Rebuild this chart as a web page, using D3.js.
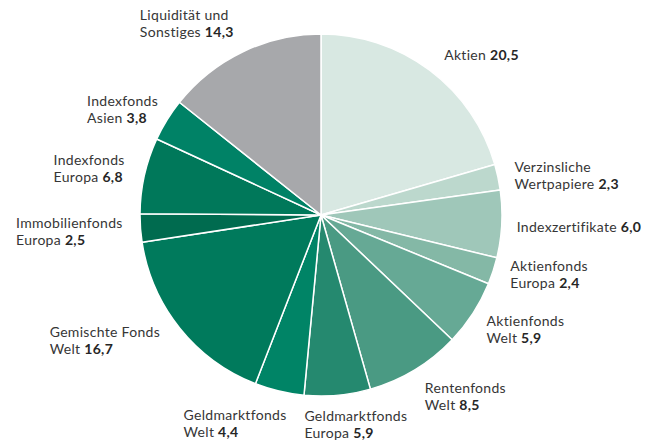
<!DOCTYPE html>
<html><head><meta charset="utf-8">
<script src="https://cdn.jsdelivr.net/npm/d3@7"></script>
<style>
html,body{margin:0;padding:0;background:#fff;}
svg text{font-family:Lato,"Open Sans",sans-serif;font-size:14px;letter-spacing:0.3px;fill:#363636;}
svg text .v{font-weight:700;fill:#262626;}
</style></head>
<body><svg id="c" width="660" height="443"></svg>
<script>
const labelLines = [
  ["Aktien"], ["Verzinsliche","Wertpapiere"], ["Indexzertifikate"], ["Aktienfonds","Europa"],
  ["Aktienfonds","Welt"], ["Rentenfonds","Welt"], ["Geldmarktfonds","Europa"], ["Geldmarktfonds","Welt"],
  ["Gemischte Fonds","Welt"], ["Immobilienfonds","Europa"], ["Indexfonds","Europa"], ["Indexfonds","Asien"],
  ["Liquidität und","Sonstiges"]
];
const values = [20.5, 2.3, 6.0, 2.4, 5.9, 8.5, 5.9, 4.4, 16.7, 2.5, 6.8, 3.8, 14.3];
const colors = ["#d8e8e2","#bcd8cd","#9fc7b9","#84b8a6","#66a995","#4a9a83","#25896f",
                "#008466","#007a5c","#006b4f","#00785a","#008266","#a7a8ab"];
// hand-tuned label nudges (px) relative to the automatic placement
const labelNudge = [[18,7],[-1,7],[-4,3],[1,-5],[4,-1],[20,-1],[12,-3],[-28,1],[-17,-7],[1,2],[-2,2],[2,9],[-27,4]];

const svg = d3.select("#c");
const cx = 321, cy = 215, r = 181, labelR = 200, lineH = 17;
const g = svg.append("g").attr("transform", `translate(${cx},${cy})`);
const data = values.map((v,i)=>({v, i}));
const pie = d3.pie().value(d=>d.v).sort(null);
const arcs = pie(data);
const arc = d3.arc().innerRadius(0).outerRadius(r);
g.selectAll("path").data(arcs).join("path")
  .attr("d", arc).attr("fill", d=>colors[d.data.i])
  .attr("stroke", "#fff").attr("stroke-width", 1.5).attr("stroke-linejoin","round");

const fmt = v => d3.format(".1f")(v).replace(".", ",");
arcs.forEach(a => {
  const i = a.data.i;
  const th = (a.startAngle + a.endAngle) / 2;
  const s = Math.sin(th), c = Math.cos(th);
  const px = labelR * s, py = -labelR * c;
  const lines = labelLines[i];
  const lg = g.append("g");
  lines.forEach((ln, k) => {
    const t = lg.append("text").attr("x", 0).attr("y", k * lineH);
    t.append("tspan").text(ln);
    if (k === lines.length - 1) {
      t.append("tspan").text(" ");
      t.append("tspan").attr("class","v").text(fmt(values[i]));
    }
  });
  const bb = lg.node().getBBox();
  const w = bb.width, h = (lines.length - 1) * lineH + 13;
  const xl = px - w * (1 - s) / 2;
  const yc = py - (h / 2) * c;
  const yTop = yc - h / 2;
  const [nx, ny] = labelNudge[i];
  lg.attr("transform", `translate(${xl + nx},${yTop + 10 + ny})`);
});
</script></body></html>
